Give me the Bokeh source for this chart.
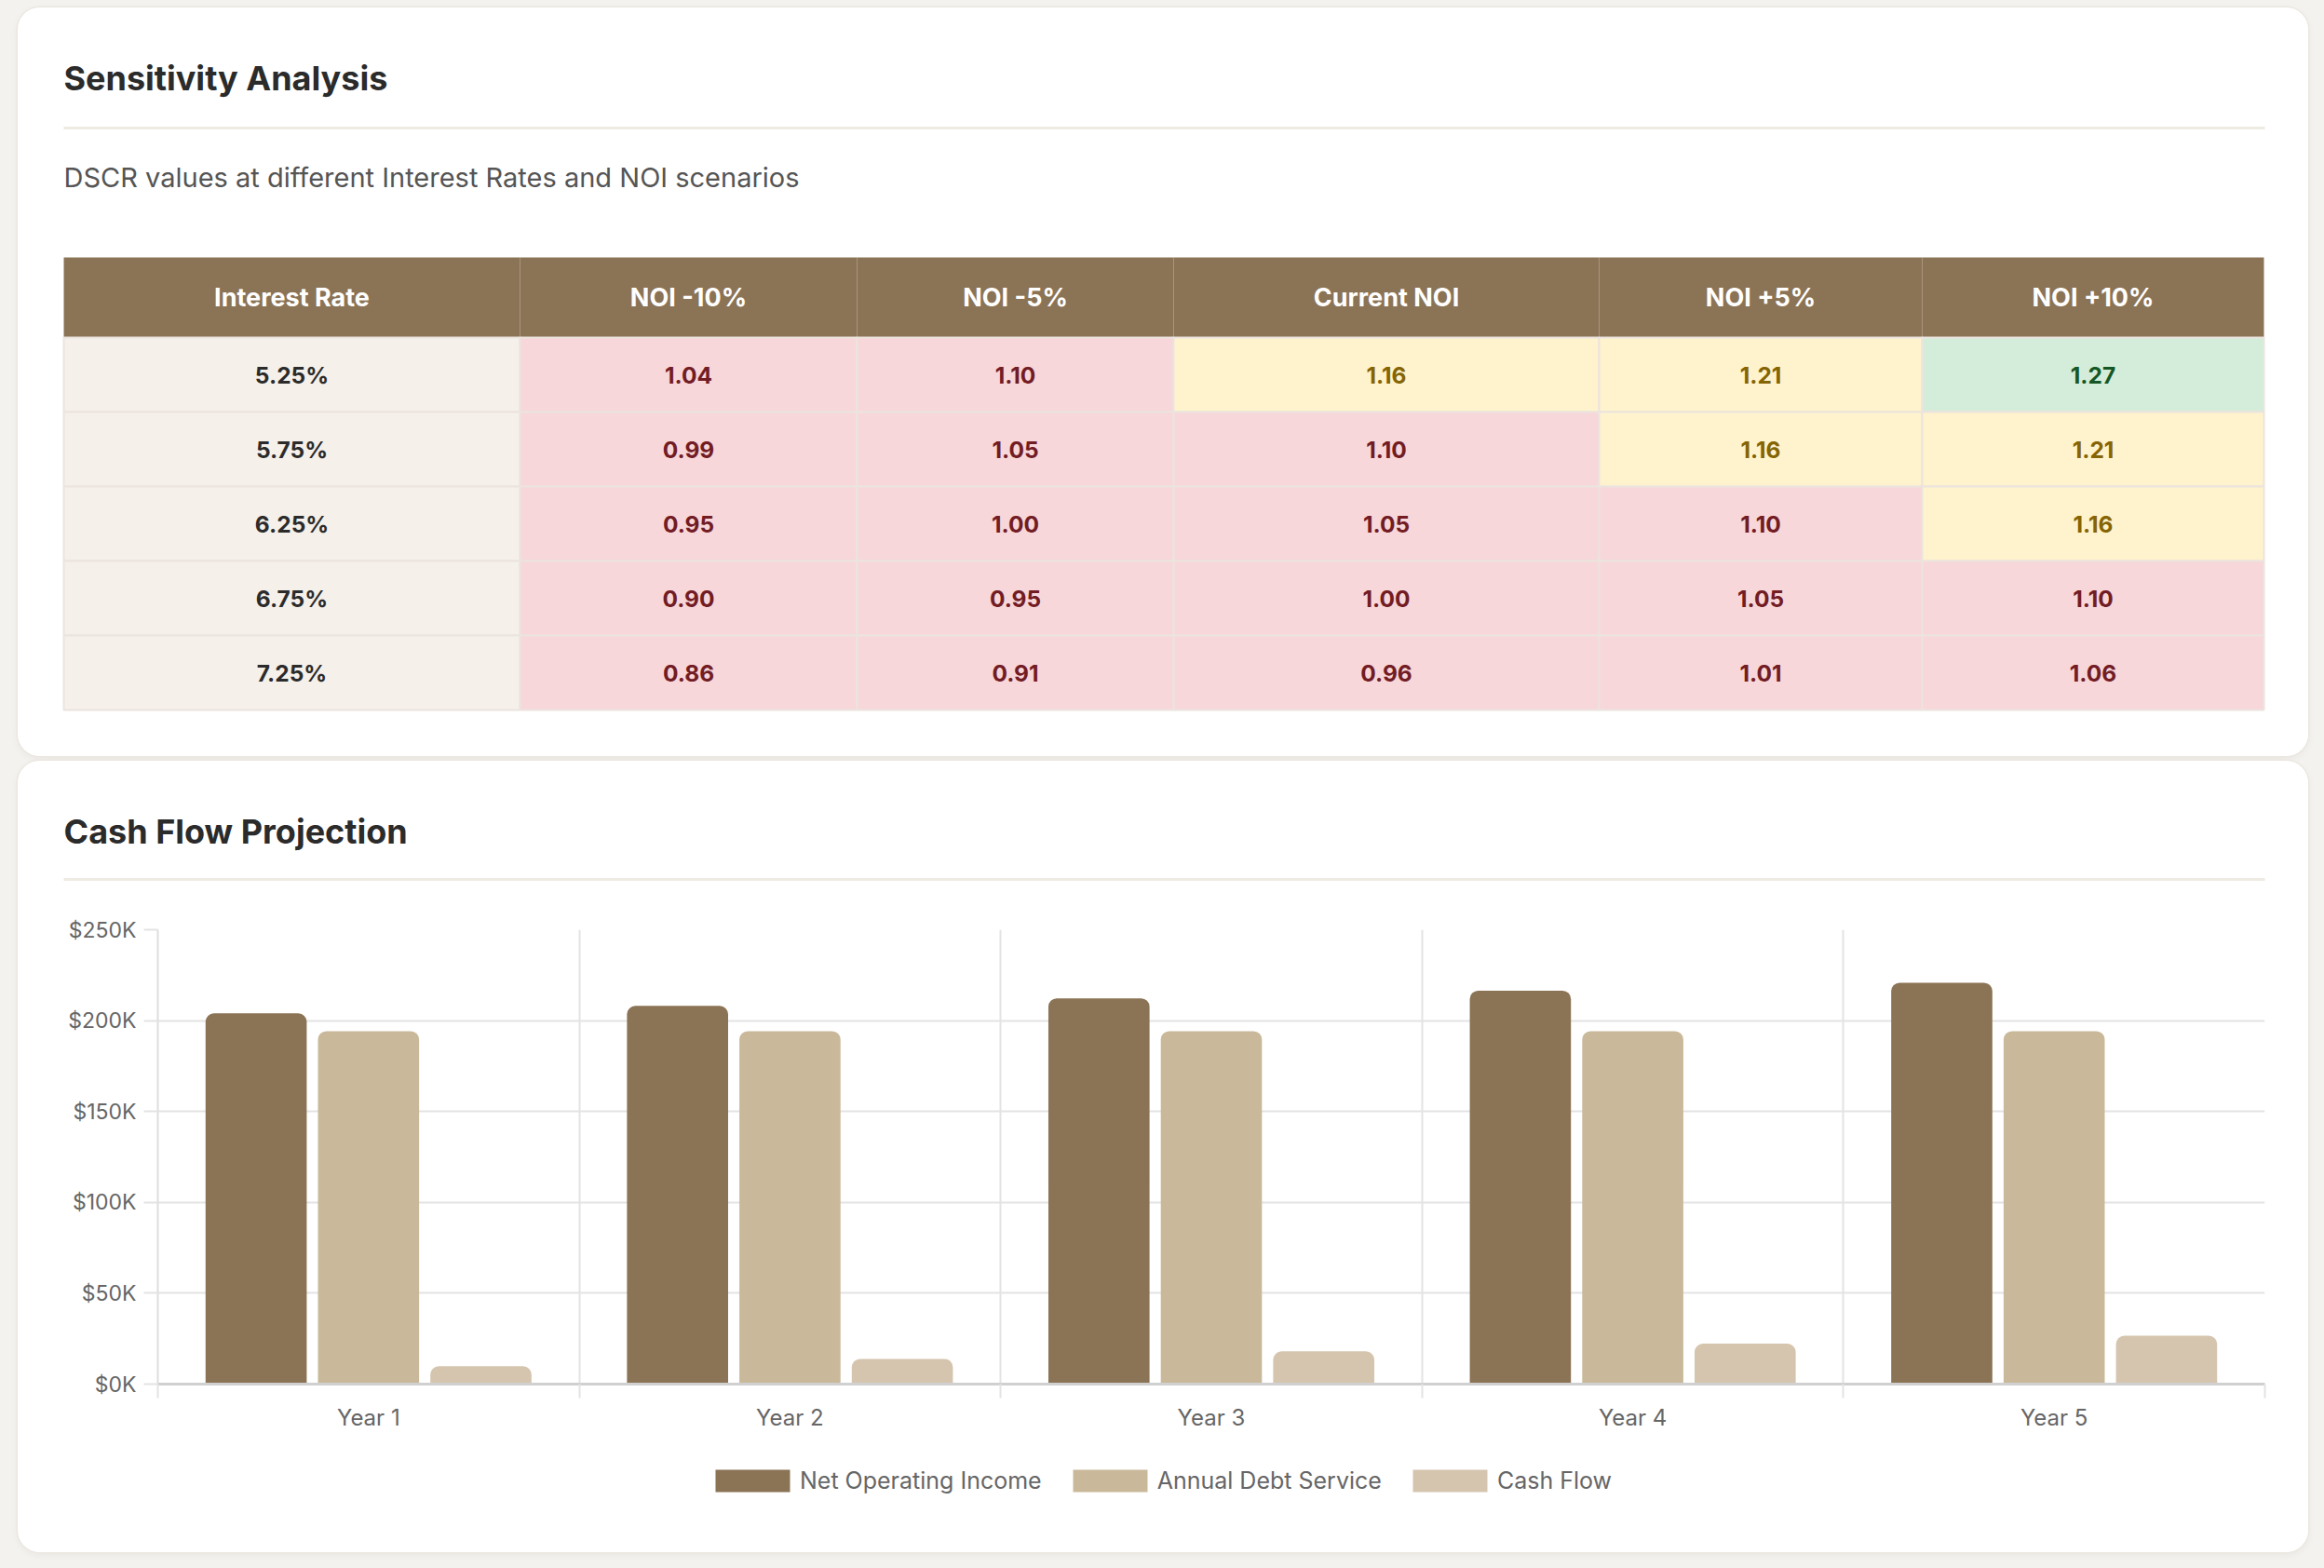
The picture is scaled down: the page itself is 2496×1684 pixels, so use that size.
import numpy as np
from bokeh.plotting import figure
from bokeh.models import Range1d, FixedTicker, Legend, LegendItem, Column
from bokeh.embed import file_html
from bokeh.resources import INLINE
from bokeh.core.properties import value

# ---------------- data ----------------
interest_rates = ["5.25%", "5.75%", "6.25%", "6.75%", "7.25%"]
table_header = ["Interest Rate", "NOI -10%", "NOI -5%", "Current NOI", "NOI +5%", "NOI +10%"]
dscr_525 = [1.04, 1.10, 1.16, 1.21, 1.27]
dscr_575 = [0.99, 1.05, 1.10, 1.16, 1.21]
dscr_625 = [0.95, 1.00, 1.05, 1.10, 1.16]
dscr_675 = [0.90, 0.95, 1.00, 1.05, 1.10]
dscr_725 = [0.86, 0.91, 0.96, 1.01, 1.06]
dscr_rows = [dscr_525, dscr_575, dscr_625, dscr_675, dscr_725]

years = ["Year 1", "Year 2", "Year 3", "Year 4", "Year 5"]
net_operating_income = [204000, 208080, 212242, 216486, 220816]
annual_debt_service = [194200, 194200, 194200, 194200, 194200]
cash_flow = [9800, 13880, 18042, 22286, 26616]
y_ticks = [0, 50000, 100000, 150000, 200000, 250000]
y_tick_labels = ["$0K", "$50K", "$100K", "$150K", "$200K", "$250K"]
series_names = ["Net Operating Income", "Annual Debt Service", "Cash Flow"]

# ---------------- style ----------------
FONT_NAME = "Inter"
FONT = value(FONT_NAME)
PAGE_BG = "#f4f2ee"
BROWN = "#8b7355"
TAN = "#c9b99a"
LIGHT_TAN = "#d5c5af"
SERIES_COLORS = [BROWN, TAN, LIGHT_TAN]
CARD_STYLE = {
    "border-radius": "24px",
    "overflow": "hidden",
    "background-color": "#ffffff",
    "box-shadow": "0 0 0 1.5px #ebe7e0, 0 3px 10px rgba(0,0,0,0.05)",
}

def cell_style(v):
    if v >= 1.25:
        return "#d4edda", "#155724"
    if v >= 1.15:
        return "#fff3cd", "#856404"
    return "#f8d7da", "#721c24"

def pixel_fig(w, h, **kw):
    p = figure(width=w, height=h, x_range=Range1d(0, w), y_range=Range1d(h, 0),
               x_axis_type=None, y_axis_type=None, output_backend="svg",
               toolbar_location=None, min_border=0, outline_line_color=None,
               background_fill_color="white", border_fill_color="white", **kw)
    p.grid.visible = False
    return p

CARD_W = 2460
PAD_L = 49
PAD_R = 2413

# ---------------- card 1: sensitivity table ----------------
H1 = 804
f1 = pixel_fig(CARD_W, H1)
f1.text(x=[PAD_L], y=[75], text=["Sensitivity Analysis"], text_font=FONT,
        text_font_size="36px", text_font_style="bold", text_color="#2b2b2b",
        text_baseline="middle", text_align="left")
f1.quad(left=[PAD_L], right=[PAD_R], top=[127.5], bottom=[130.5],
        fill_color="#eeebe3", line_color=None)
f1.text(x=[PAD_L], y=[182], text=["DSCR values at different Interest Rates and NOI scenarios"],
        text_font=FONT, text_font_size="29px", text_color="#555555",
        text_baseline="middle", text_align="left")

col_widths = [490, 362, 340, 457, 347, 367]
edges = np.concatenate([[PAD_L], PAD_L + np.cumsum(col_widths)])
head_top, head_h, row_h = 268, 86, 80

# header
f1.quad(left=edges[:-1], right=edges[1:], top=[head_top] * 6, bottom=[head_top + head_h] * 6,
        fill_color=BROWN, line_color=None)
f1.text(x=(edges[:-1] + edges[1:]) / 2, y=[head_top + head_h / 2] * 6, text=table_header,
        text_font=FONT, text_font_size="27px", text_font_style="bold", text_color="white",
        text_align="center", text_baseline="middle")

# rows
L, R, T, B, FC, TX, TY, TT, TC = [], [], [], [], [], [], [], [], []
for r, rate in enumerate(interest_rates):
    top = head_top + head_h + r * row_h
    L.append(edges[0]); R.append(edges[1]); T.append(top); B.append(top + row_h)
    FC.append("#f5f0ea")
    TX.append((edges[0] + edges[1]) / 2); TY.append(top + row_h / 2)
    TT.append(rate); TC.append("#2b2b2b")
    for c, v in enumerate(dscr_rows[r]):
        bg, fg = cell_style(v)
        L.append(edges[c + 1]); R.append(edges[c + 2]); T.append(top); B.append(top + row_h)
        FC.append(bg)
        TX.append((edges[c + 1] + edges[c + 2]) / 2); TY.append(top + row_h / 2)
        TT.append(f"{v:.2f}"); TC.append(fg)
f1.quad(left=L, right=R, top=T, bottom=B, fill_color=FC, line_color="#ece4de", line_width=2)
f1.text(x=TX, y=TY, text=TT, text_color=TC, text_font=FONT, text_font_size="24.5px",
        text_font_style="bold", text_align="center", text_baseline="middle")
f1.styles = CARD_STYLE
f1.margin = (8, 0, 0, 19)

# ---------------- card 2: cash flow chart ----------------
H2A = 160
f2a = pixel_fig(CARD_W, H2A)
f2a.text(x=[PAD_L], y=[75], text=["Cash Flow Projection"], text_font=FONT,
         text_font_size="36px", text_font_style="bold", text_color="#2b2b2b",
         text_baseline="middle", text_align="left")
f2a.quad(left=[PAD_L], right=[PAD_R], top=[125.5], bottom=[128.5],
         fill_color="#eeebe3", line_color=None)
head_box = Column(children=[f2a], width=CARD_W, height=H2A)

H2B = 580
f2b = figure(width=CARD_W, height=H2B, x_range=Range1d(0, len(years)), y_range=Range1d(0, 250000),
             output_backend="svg", toolbar_location=None,
             min_border_left=150, min_border_right=47, min_border_top=21, min_border_bottom=71,
             outline_line_color=None, background_fill_color="white", border_fill_color="white")

xc = np.arange(len(years)) + 0.5
offsets = [-0.2667, 0.0, 0.2667]
series_values = [net_operating_income, annual_debt_service, cash_flow]
for vals, col, off in zip(series_values, SERIES_COLORS, offsets):
    f2b.vbar(x=xc + off, top=vals, bottom=0, width=0.24, fill_color=col,
             line_color=None, border_radius=(9, 9, 0, 0))

# grids
f2b.ygrid.ticker = FixedTicker(ticks=y_ticks)
f2b.ygrid.grid_line_color = "#e3e3e3"
f2b.ygrid.grid_line_width = 2
f2b.xgrid.ticker = FixedTicker(ticks=list(range(len(years) + 1)))
f2b.xgrid.grid_line_color = "#e3e3e3"
f2b.xgrid.grid_line_width = 2

# y axis
ya = f2b.yaxis[0]
ya.ticker = FixedTicker(ticks=y_ticks)
ya.major_label_overrides = {t: s for t, s in zip(y_ticks, y_tick_labels)}
ya.major_tick_out = 15
ya.major_tick_in = 0
ya.major_tick_line_color = "#e3e3e3"
ya.major_tick_line_width = 2
ya.minor_tick_line_color = None
ya.axis_line_color = "#dedede"
ya.axis_line_width = 2
ya.major_label_standoff = 8
ya.major_label_text_font = FONT_NAME
ya.major_label_text_font_size = "23px"
ya.major_label_text_color = "#666666"

# x axis
xa = f2b.xaxis[0]
xa.ticker = FixedTicker(ticks=list(xc), minor_ticks=list(range(len(years) + 1)))
xa.major_label_overrides = {float(x): y for x, y in zip(xc, years)}
xa.major_tick_line_color = None
xa.major_tick_out = 0
xa.major_tick_in = 0
xa.minor_tick_out = 15
xa.minor_tick_in = 0
xa.minor_tick_line_color = "#e3e3e3"
xa.minor_tick_line_width = 2
xa.axis_line_color = "#d0d0d0"
xa.axis_line_width = 3
xa.major_label_standoff = 6
xa.major_label_text_font = FONT_NAME
xa.major_label_text_font_size = "24px"
xa.major_label_text_color = "#666666"

chart_box = Column(children=[f2b], width=CARD_W, height=H2B)

# legend strip (its own figure; hidden copies of the series supply the swatches)
H2C = 850 - H2A - H2B
fl = figure(width=CARD_W, height=H2C, x_range=Range1d(0, CARD_W), y_range=Range1d(0, H2C),
            x_axis_type=None, y_axis_type=None, output_backend="svg", toolbar_location=None,
            min_border=0, outline_line_color=None, background_fill_color="white",
            border_fill_color="white")
fl.grid.visible = False
items = []
for name, vals, col in zip(series_names, series_values, SERIES_COLORS):
    rr = fl.vbar(x=xc, top=vals, bottom=0, width=0.24, fill_color=col, line_color=None)
    rr.visible = False
    items.append(LegendItem(label=name, renderers=[rr]))
legend = Legend(items=items, orientation="horizontal", location=(739, 62),
                glyph_width=100, glyph_height=30, label_standoff=1, spacing=23,
                padding=0, margin=0, border_line_color=None, background_fill_alpha=0,
                inactive_fill_alpha=0,
                label_text_font=FONT_NAME, label_text_font_size="25px", label_text_color="#666666",
                label_height=24)
fl.add_layout(legend)
legend_box = Column(children=[fl], width=CARD_W, height=H2C)

card2 = Column(children=[head_box, chart_box, legend_box], spacing=0, width=CARD_W,
               height=H2A + H2B + H2C, styles=CARD_STYLE)
card2.margin = (5, 0, 0, 19)

page = Column(children=[f1, card2], spacing=0, width=2496, height=1684,
              styles={"background-color": PAGE_BG})

open("out.html", "w").write(file_html(page, INLINE, "Sensitivity Analysis"))
